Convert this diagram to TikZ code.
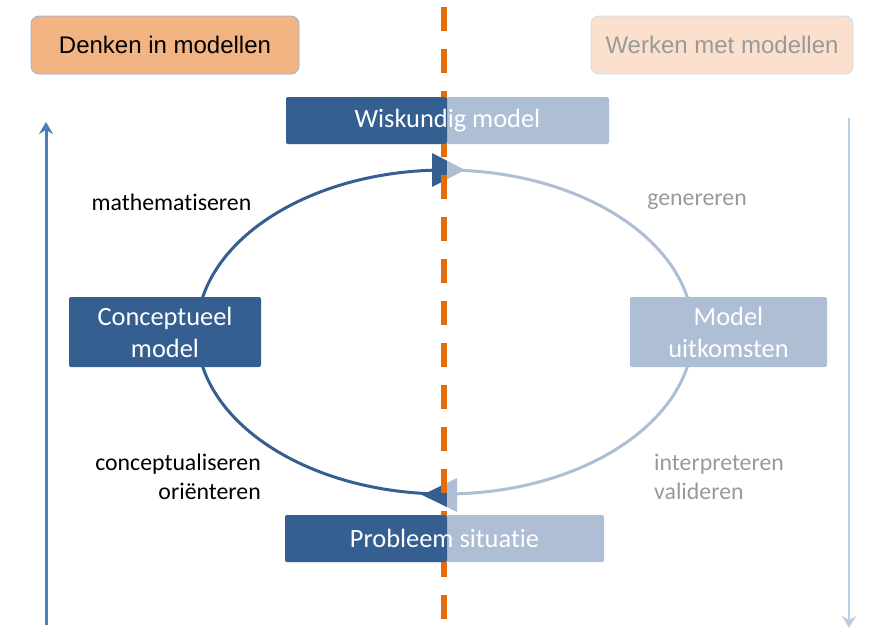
\documentclass[tikz,border=0pt]{standalone}
\usepackage{fontspec}
\setmainfont{Carlito}[Ligatures=NoCommon]
\newfontfamily\headfont{Liberation Sans}
\usetikzlibrary{arrows.meta}
\definecolor{modeldark}{HTML}{365F91}
\definecolor{modellight}{HTML}{ADBED5}
\definecolor{splitorange}{HTML}{E46C0A}
\definecolor{headfill}{HTML}{F2B482}
\definecolor{headpale}{HTML}{FBE1CD}
\definecolor{headrim}{HTML}{8EB4E3}
\definecolor{headrimpale}{HTML}{C6D9F1}
\definecolor{sidedark}{HTML}{4A7EBB}
\definecolor{sidelight}{HTML}{B9CDE5}
\definecolor{mutedtext}{HTML}{999999}

\begin{document}
\begin{tikzpicture}[
  x=1pt,
  y=-1pt,
  every node/.style={inner sep=0pt},
  header/.style={rounded corners=8pt, line width=0.8pt, font=\headfont\fontsize{24}{28}\selectfont,
    minimum height=58pt},
  box/.style={rounded corners=2pt, text=white, align=center,
    font=\fontsize{26.4}{32}\selectfont},
  halfbox/.style={box, fill=modellight,
    path picture={\fill[modeldark] (path picture bounding box.south west)
      rectangle (path picture bounding box.north -| split);}},
  step label/.style={font=\fontsize{23.8}{29}\selectfont},
  loopdark/.style={modeldark, line width=3pt},
  looplight/.style={modellight, line width=3pt},
  divider/.style={splitorange, line width=5.5pt, dash pattern=on 24pt off 18pt},
  sidearrow/.style={line width=3pt, -{Stealth[length=12pt, width=14pt, inset=4pt]}}
]
  \useasboundingbox (0,0) rectangle (886,637);

  % ---- fixed points of the cycle -----------------------------------------
  \coordinate (split) at (447,0);
  \coordinate (top) at (445,170);
  \coordinate (bot) at (445,494);

  % ---- the cycle: left half dark, right half pale ---------------------------
  \draw[loopdark] (top) arc[start angle=270, end angle=90, x radius=248, y radius=162];
  \draw[looplight] (top) arc[start angle=-90, end angle=90, x radius=248, y radius=162];

  % arrow heads, cut in two at the dashed line
  \fill[modeldark] (432,153) -- (447,160.7) -- (447,179.3) -- (432,187) -- cycle;
  \fill[modellight] (447,160.7) -- (465,170) -- (447,179.3) -- cycle;
  \fill[modeldark] (422,495) -- (447,482.9) -- (447,507.1) -- cycle;
  \fill[modellight] (447,482.9) -- (457,478) -- (457,512) -- (447,507.1) -- cycle;

  % ---- dashed divider --------------------------------------------------------
  \coordinate (divtop) at (444,7);
  \coordinate (divbot) at (444,620);
  \draw[divider] (divtop) -- (divbot);

  % ---- the two headers -------------------------------------------------------
  \node[header, fill=headfill, draw=headrim, minimum width=268pt] (denken)
    at (165,45) {Denken in modellen};
  \node[header, fill=headpale, draw=headrimpale, text=mutedtext,
    minimum width=262pt] (werken) at (722,45) {Werken met modellen};

  % ---- the four stages -------------------------------------------------------
  \node[halfbox, minimum width=323pt, minimum height=47pt] (wiskundig)
    at (447.5,120.5) {Wiskundig model};
  \node[halfbox, minimum width=319pt, minimum height=47pt] (probleem)
    at (444.5,538.5) {Probleem situatie};
  \node[box, fill=modeldark, minimum width=192pt, minimum height=70pt] (concept)
    at (165,332) {Conceptueel\\model};
  \node[box, fill=modellight, minimum width=197pt, minimum height=70pt] (uitkomst)
    at (728.5,332) {Model\\uitkomsten};

  % ---- step labels -----------------------------------------------------------
  \node[step label] (mathem) at (171.5,202) {mathematiseren};
  \node[step label, text=mutedtext] (gener) at (697,202) {genereren};
  \node[step label, align=right, anchor=east] (conceptual) at (261,477)
    {conceptualiseren\\oriënteren};
  \node[step label, align=left, anchor=west, text=mutedtext] (interpr) at (654,477)
    {interpreteren\\valideren};

  % ---- side arrows -----------------------------------------------------------
  \coordinate (upfoot) at (46,625);
  \coordinate (uphead) at (46,122);
  \coordinate (downfoot) at (849,118);
  \coordinate (downhead) at (849,628);
  \draw[sidearrow, sidedark] (upfoot) -- (uphead);
  \draw[sidearrow, sidelight, line width=2.5pt] (downfoot) -- (downhead);

\end{tikzpicture}
\end{document}
